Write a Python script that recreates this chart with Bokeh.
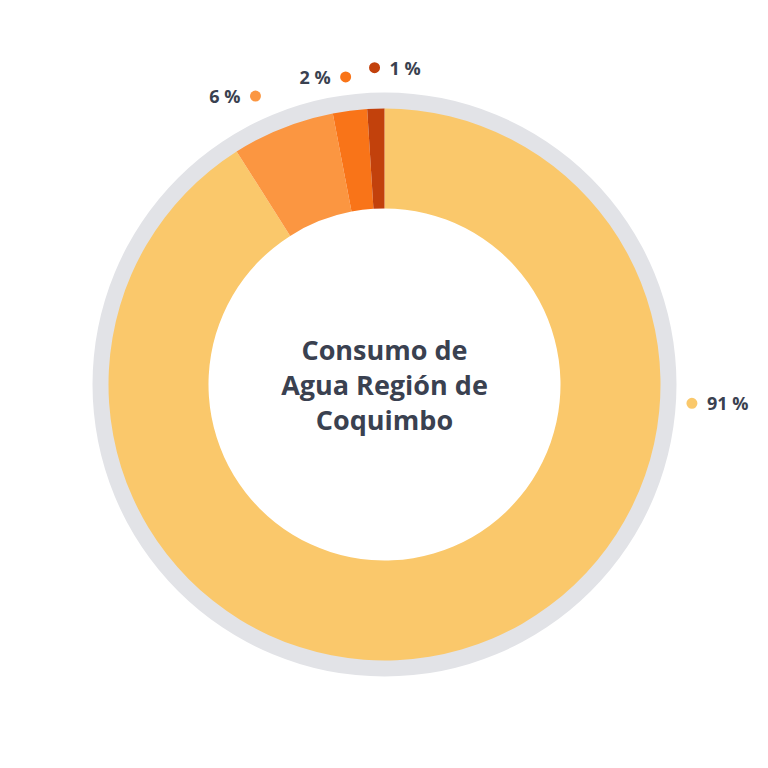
import math
from bokeh.plotting import figure
from bokeh.models import ColumnDataSource
from bokeh.core.properties import value
from bokeh.embed import file_html
from bokeh.resources import INLINE

categories = ["A", "B", "C", "D"]
shares = [91, 6, 2, 1]
labels = ["91 %", "6 %", "2 %", "1 %"]
colors = ["#FAC86B", "#FB9641", "#F97418", "#C2410C"]
title_lines = ["Consumo de", "Agua Región de", "Coquimbo"]

R_OUT = 276
R_IN = 176
R_RING = 292

p = figure(width=752, height=752, x_range=(-384, 368), y_range=(-368, 384),
           output_backend="svg", toolbar_location=None, min_border=0)
p.axis.visible = False
p.grid.visible = False
p.outline_line_color = None
p.background_fill_color = "white"

# grey outer ring
p.annular_wedge(x=0, y=0, inner_radius=R_OUT - 1, outer_radius=R_RING,
                start_angle=0, end_angle=2 * math.pi, fill_color="#E2E3E7",
                line_color=None)

total = sum(shares)
starts, ends, mids = [], [], []
cum = 0.0
for s in shares:
    a0 = math.pi / 2 - 2 * math.pi * cum / total
    cum += s
    a1 = math.pi / 2 - 2 * math.pi * cum / total
    starts.append(a0)
    ends.append(a1)
    mids.append((a0 + a1) / 2)

src = ColumnDataSource(dict(start=starts, end=ends, color=colors))
p.annular_wedge(x=0, y=0, inner_radius=R_IN, outer_radius=R_OUT,
                start_angle="start", end_angle="end", direction="clock",
                fill_color="color", line_color=None, source=src)

# labels: the big slice label sits at the right side
label_angles = [math.radians(-3.5), mids[1] + math.radians(2.5), mids[2], mids[3]]
label_r = [308, 316, 310, 317]
dot_x = [r * math.cos(a) for r, a in zip(label_r, label_angles)]
dot_y = [r * math.sin(a) for r, a in zip(label_r, label_angles)]
p.scatter(dot_x, dot_y, size=11, color=colors, line_color=None)

text_x, text_y, aligns = [], [], []
for i, (x, y) in enumerate(zip(dot_x, dot_y)):
    if x >= 0 or i == 3:
        text_x.append(x + 15)
        aligns.append("left")
    else:
        text_x.append(x - 15)
        aligns.append("right")
    text_y.append(y)
lsrc = ColumnDataSource(dict(x=text_x, y=text_y, t=labels, align=aligns))
p.text(x="x", y="y", text="t", text_align="align", text_baseline="middle",
       text_font=value("Open Sans"), text_font_style="bold",
       text_font_size="18px", text_color="#3A4150", source=lsrc)

# centre title
ty = [35 * (1 - i) for i in range(len(title_lines))]
p.text(x=[0] * len(title_lines), y=ty, text=title_lines, text_align="center",
       text_baseline="middle", text_font=value("Open Sans"),
       text_font_style="bold", text_font_size="27px", text_color="#3A4150")

open("out.html", "w").write(file_html(p, INLINE))
